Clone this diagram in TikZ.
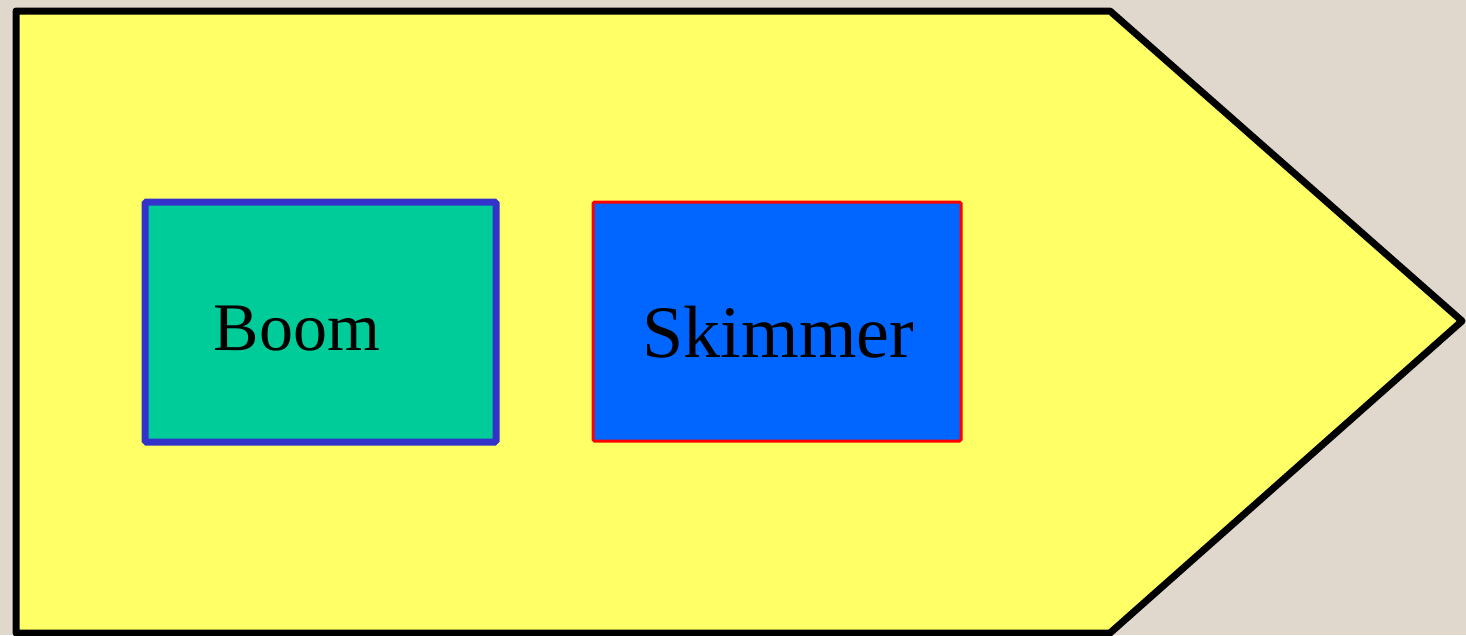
\documentclass[tikz,border=0pt]{standalone}
\usepackage{fontspec}
\setmainfont{Liberation Serif}
\definecolor{bgbeige}{HTML}{E0D8CC}
\definecolor{arrowyellow}{HTML}{FFFF66}
\definecolor{boomfill}{HTML}{00CC99}
\definecolor{boomdraw}{HTML}{3333CC}
\definecolor{skimfill}{HTML}{0066FF}
\definecolor{skimdraw}{HTML}{FF0000}
\tikzset{
  boxbase/.style={rectangle, inner sep=0pt, outer sep=0pt, rounded corners=1.5pt},
  boombox/.style={boxbase, fill=boomfill, draw=boomdraw, line width=7pt, minimum width=351pt, minimum height=240pt},
  skimbox/.style={boxbase, fill=skimfill, draw=skimdraw, line width=3pt, minimum width=368pt, minimum height=239pt},
  lbl/.style={inner sep=0pt, anchor=base},
}
\begin{document}
\begin{tikzpicture}[x=1pt, y=-1pt]
\fill[bgbeige] (0,0) rectangle (1466,635);
\useasboundingbox (0,0) rectangle (1466,635);
\draw[fill=arrowyellow, line width=7pt, line join=round]
  (16,11) -- (1110,11) -- (1462,321) -- (1110,633) -- (16,633) -- cycle;
\node[boombox] (boom) at (320.5,322) {};
\node[lbl, font=\fontsize{68}{80}\selectfont] (boomtxt) at (297,350) {Boom};
\node[skimbox] (skim) at (777,321.5) {};
\node[lbl, font=\fontsize{74}{86}\selectfont] (skimtxt) at (778.5,357) {Skimmer};
\end{tikzpicture}
\end{document}
